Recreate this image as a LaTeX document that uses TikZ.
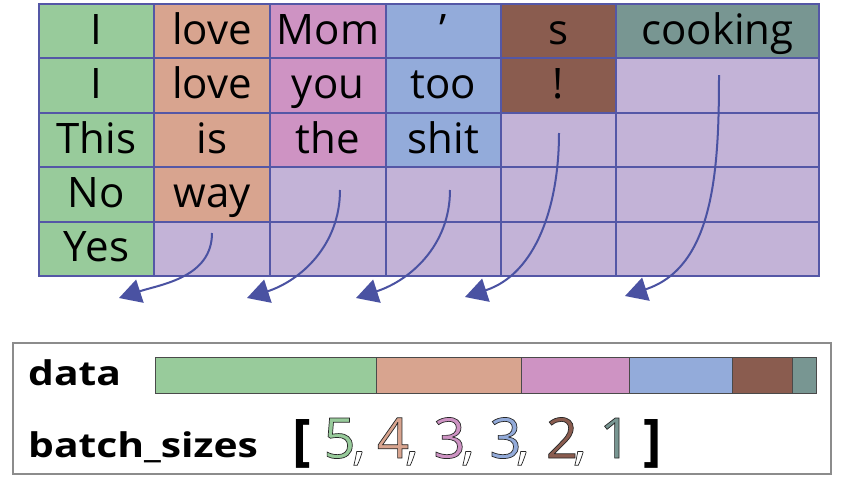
\documentclass[tikz,border=0pt]{standalone}
\usepackage{fontspec}
\setmainfont{Open Sans}
\usetikzlibrary{arrows.meta}
\definecolor{cgreen}{HTML}{98CB9B}
\definecolor{csalmon}{HTML}{D8A48F}
\definecolor{cpink}{HTML}{CE93C3}
\definecolor{cblue}{HTML}{93ABDA}
\definecolor{cbrown}{HTML}{8A5C4F}
\definecolor{cteal}{HTML}{789692}
\definecolor{clav}{HTML}{C3B3D7}
\definecolor{cline}{HTML}{5457A6}
\definecolor{carrow}{HTML}{4A52A2}
\definecolor{cframe}{HTML}{8C8C8C}
\definecolor{cseg}{HTML}{4A4A4A}
\newcommand{\outl}[2]{\textcolor{#1}{\special{pdf:literal direct 0.7 w 0.15 0.15 0.15 RG 2 Tr}#2\special{pdf:literal direct 0 Tr}}}
\begin{document}
\begin{tikzpicture}[x=1pt,y=-1pt,
  cell/.style={draw=cline, line width=2pt, inner sep=0pt, minimum height=54.4pt,
    text height=33pt, text depth=7pt, font=\fontsize{42}{48}\selectfont},
  w1/.style={minimum width=115pt}, w2/.style={minimum width=116pt},
  w6/.style={minimum width=203pt},
  seg/.style={draw=cseg, line width=1pt, minimum height=36pt, inner sep=0pt},
  lbl/.style={anchor=base west, inner sep=0pt, font=\fontsize{34}{38}\selectfont\bfseries},
  num/.style={anchor=base, inner sep=0pt, font=\fontsize{56}{60}\selectfont},
  curve/.style={draw=carrow, line width=2pt, -{Triangle[length=22pt,width=24pt]}}]
\useasboundingbox (0,0) rectangle (844,482);
\fill[white] (0,0) rectangle (844,482);
% row 1
\node[cell,w1,fill=cgreen]   (r1c1) at (96.5,31.2) {I};
\node[cell,w2,fill=csalmon]  (r1c2) at (212,31.2) {love};
\node[cell,w2,fill=cpink]    (r1c3) at (328,31.2) {Mom};
\node[cell,w1,fill=cblue]    (r1c4) at (443.5,31.2) {’};
\node[cell,w1,fill=cbrown]   (r1c5) at (558.5,31.2) {s};
\node[cell,w6,fill=cteal]    (r1c6) at (717.5,31.2) {cooking};
% row 2
\node[cell,w1,fill=cgreen]   (r2c1) at (96.5,85.6) {I};
\node[cell,w2,fill=csalmon]  (r2c2) at (212,85.6) {love};
\node[cell,w2,fill=cpink]    (r2c3) at (328,85.6) {you};
\node[cell,w1,fill=cblue]    (r2c4) at (443.5,85.6) {too};
\node[cell,w1,fill=cbrown]   (r2c5) at (558.5,85.6) {!};
\node[cell,w6,fill=clav]     (r2c6) at (717.5,85.6) {};
% row 3
\node[cell,w1,fill=cgreen]   (r3c1) at (96.5,140) {This};
\node[cell,w2,fill=csalmon]  (r3c2) at (212,140) {is};
\node[cell,w2,fill=cpink]    (r3c3) at (328,140) {the};
\node[cell,w1,fill=cblue]    (r3c4) at (443.5,140) {shit};
\node[cell,w1,fill=clav]     (r3c5) at (558.5,140) {};
\node[cell,w6,fill=clav]     (r3c6) at (717.5,140) {};
% row 4
\node[cell,w1,fill=cgreen]   (r4c1) at (96.5,194.4) {No};
\node[cell,w2,fill=csalmon]  (r4c2) at (212,194.4) {way};
\node[cell,w2,fill=clav]     (r4c3) at (328,194.4) {};
\node[cell,w1,fill=clav]     (r4c4) at (443.5,194.4) {};
\node[cell,w1,fill=clav]     (r4c5) at (558.5,194.4) {};
\node[cell,w6,fill=clav]     (r4c6) at (717.5,194.4) {};
% row 5
\node[cell,w1,fill=cgreen]   (r5c1) at (96.5,248.8) {Yes};
\node[cell,w2,fill=clav]     (r5c2) at (212,248.8) {};
\node[cell,w2,fill=clav]     (r5c3) at (328,248.8) {};
\node[cell,w1,fill=clav]     (r5c4) at (443.5,248.8) {};
\node[cell,w1,fill=clav]     (r5c5) at (558.5,248.8) {};
\node[cell,w6,fill=clav]     (r5c6) at (717.5,248.8) {};
% arrows
\coordinate (s1) at (212,233); \coordinate (e1) at (119,298);
\coordinate (s2) at (340,190); \coordinate (e2) at (247,298);
\coordinate (s3) at (450,190); \coordinate (e3) at (356,298);
\coordinate (s4) at (559,133); \coordinate (e4) at (465,297);
\coordinate (s5) at (719,75);  \coordinate (e5) at (625,296);
\foreach \i in {1,...,5} \draw[curve] (s\i) to[out=-90,in=18] (e\i);
% bottom panel
\node[draw=cframe, line width=1.5pt, minimum width=818pt, minimum height=131pt, inner sep=0pt] (panel) at (422,408.5) {};
\node[seg,fill=cgreen,  minimum width=221pt] (d1) at (265.5,375) {};
\node[seg,fill=csalmon, minimum width=145pt] (d2) at (448.5,375) {};
\node[seg,fill=cpink,   minimum width=108pt] (d3) at (575,375) {};
\node[seg,fill=cblue,   minimum width=103pt] (d4) at (680.5,375) {};
\node[seg,fill=cbrown,  minimum width=60pt]  (d5) at (762,375) {};
\node[seg,fill=cteal,   minimum width=24pt]  (d6) at (804,375) {};
\node[lbl] (ldata) at (28,385) {\scalebox{1.2}[1]{data}};
\node[lbl] (lbatch) at (28,457) {\scalebox{1.2}[1]{batch\_sizes}};
\node[num,font=\fontsize{56}{60}\selectfont\bfseries] (lb) at (302,459) {[};
\node[num] (n1) at (339.5,458) {\outl{cgreen}{5}};
\node[num] (k1) at (359,458) {\outl{white}{,}};
\node[num] (n2) at (393,458) {\outl{csalmon}{4}};
\node[num] (k2) at (412,458) {\outl{white}{,}};
\node[num] (n3) at (449.5,458) {\outl{cpink}{3}};
\node[num] (k3) at (468,458) {\outl{white}{,}};
\node[num] (n4) at (505.5,458) {\outl{cblue}{3}};
\node[num] (k4) at (523,458) {\outl{white}{,}};
\node[num] (n5) at (562,458) {\outl{cbrown}{2}};
\node[num] (k5) at (580,458) {\outl{white}{,}};
\node[num] (n6) at (615.5,458) {\outl{cteal}{1}};
\node[num,font=\fontsize{56}{60}\selectfont\bfseries] (rb) at (653,459) {]};
\end{tikzpicture}
\end{document}
